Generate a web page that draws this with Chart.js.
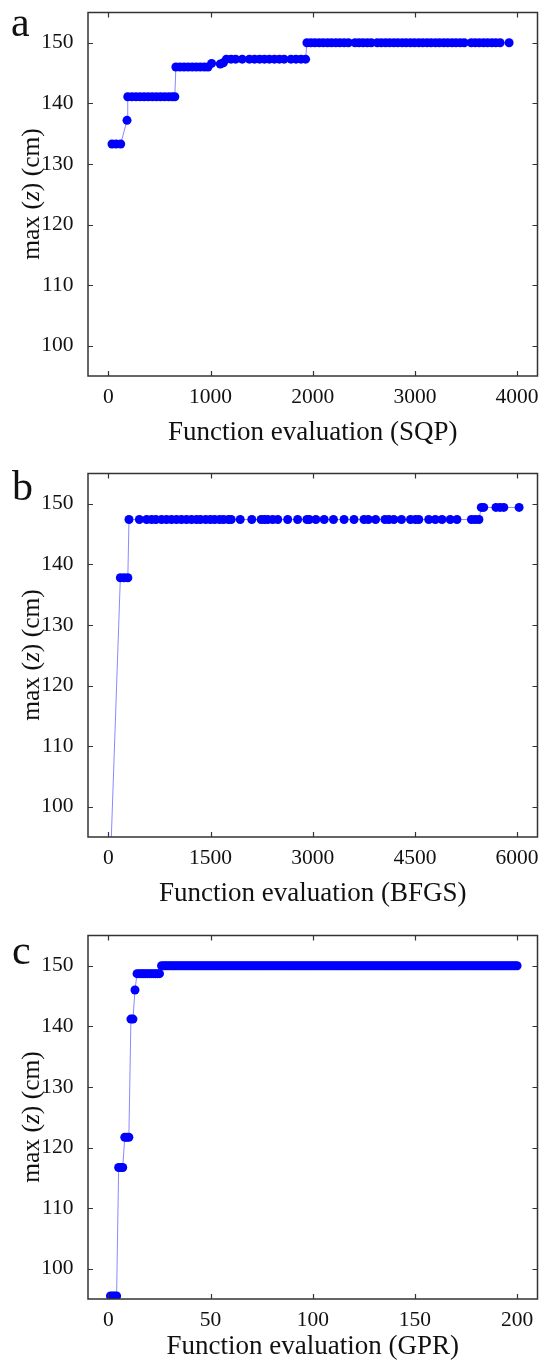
<!DOCTYPE html>
<html><head><meta charset="utf-8">
<script src="https://cdn.jsdelivr.net/npm/chart.js@4.4.1/dist/chart.umd.min.js"></script>
<style>
html,body{margin:0;padding:0;background:#fff;width:542px;height:1368px;overflow:hidden;position:relative;}
.panel{position:absolute;left:0;width:542px;}
.letter{position:absolute;font-family:'Liberation Serif','Times New Roman',serif;font-size:42px;line-height:1;color:#111;}
.ytitle{position:absolute;left:30.5px;font-family:'Liberation Serif','Times New Roman',serif;font-size:25.5px;line-height:1;white-space:nowrap;transform:translate(-50%,-50%) rotate(-90deg);color:#111;}
</style></head>
<body>
<div class="panel" style="top:0;height:461px"><canvas id="ca"></canvas></div>
<div class="panel" style="top:461px;height:461px"><canvas id="cb"></canvas></div>
<div class="panel" style="top:923px;height:445px"><canvas id="cc"></canvas></div>
<div class="letter" style="left:11px;top:1px">a</div>
<div class="letter" style="left:12px;top:465px">b</div>
<div class="letter" style="left:12px;top:929px">c</div>
<div class="ytitle" style="top:194px">max (<i>z</i>) (cm)</div>
<div class="ytitle" style="top:655px">max (<i>z</i>) (cm)</div>
<div class="ytitle" style="top:1117px">max (<i>z</i>) (cm)</div>
<script>
// ---------- data ----------
const yTicks = [100, 110, 120, 130, 140, 150];
const sqpTicks = [0, 1000, 2000, 3000, 4000];
const bfgsTicks = [0, 1500, 3000, 4500, 6000];
const gprTicks = [0, 50, 100, 150, 200];

const sqpLevels = [133.3, 137.2, 141.1, 146.0, 146.6, 146.5, 146.7, 147.3, 150.0];
const sqpEvalByLevel = [
  [35, 75, 120],
  [182],
  [189, 230, 270, 310, 350, 390, 430, 470, 510, 550, 590, 625, 650],
  [660, 700, 740, 780, 820, 860, 900, 940, 975],
  [1010],
  [1095],
  [1125],
  [1155, 1200, 1245, 1310, 1380, 1430, 1480, 1527, 1575, 1625, 1673, 1720, 1787, 1836, 1885, 1930],
  [1943, 1982, 2021, 2063, 2103, 2145, 2184, 2226, 2265, 2307, 2349, 2414, 2453, 2492, 2534, 2573,
   2632, 2671, 2713, 2752, 2794, 2833, 2876, 2915, 2957, 2996, 3038, 3077, 3119, 3158, 3201, 3240,
   3282, 3321, 3363, 3402, 3444, 3483, 3551, 3590, 3630, 3672, 3711, 3753, 3792, 3834, 3922]
];

const bfgsLevels = [86.0, 137.8, 147.4, 149.4];
const bfgsEvalByLevel = [
  [15],
  [175, 230, 285],
  [302, 454, 561, 634, 697, 780, 853, 926, 999, 1072, 1146, 1219, 1292, 1350, 1428, 1496, 1560,
   1633, 1691, 1764, 1803, 1935, 2105, 2242, 2290, 2339, 2412, 2486, 2632, 2778, 2914, 2949, 3046,
   3168, 3304, 3460, 3606, 3752, 3816, 3923, 4060, 4118, 4191, 4303, 4435, 4508, 4557, 4703, 4800,
   4898, 5019, 5117, 5330, 5385, 5440],
  [5475, 5510, 5690, 5750, 5805, 6030]
];

// GPR: one evaluation per integer step; [first, last] evaluation index at each level
const gprLevels = [95.5, 116.7, 121.7, 141.2, 146.0, 148.7, 150.0];
const gprEvalRanges = [[1, 4], [5, 7], [8, 10], [11, 12], [13, 13], [14, 25], [26, 200]];

// ---------- build points ----------
function fromLevels(levels, evalsByLevel) {
  const pts = [];
  levels.forEach((lv, i) => evalsByLevel[i].forEach(e => pts.push({x: e, y: lv})));
  return pts;
}
function fromRanges(levels, ranges) {
  const pts = [];
  levels.forEach((lv, i) => { for (let e = ranges[i][0]; e <= ranges[i][1]; e++) pts.push({x: e, y: lv}); });
  return pts;
}

const FONT = "'Liberation Serif', 'Times New Roman', serif";
const TXT = '#111';

const frameTicks = {
  id: 'frameTicks',
  afterDraw(chart) {
    const {ctx, chartArea: a, scales: {x, y}} = chart;
    ctx.save();
    ctx.strokeStyle = '#333';
    ctx.lineWidth = 1.2;
    ctx.beginPath();
    x.ticks.forEach(t => {
      const p = Math.round(x.getPixelForValue(t.value)) + 0.5;
      ctx.moveTo(p, a.bottom); ctx.lineTo(p, a.bottom - 5);
      ctx.moveTo(p, a.top); ctx.lineTo(p, a.top + 5);
    });
    y.ticks.forEach(t => {
      const p = Math.round(y.getPixelForValue(t.value)) + 0.5;
      ctx.moveTo(a.left, p); ctx.lineTo(a.left + 5, p);
      ctx.moveTo(a.right, p); ctx.lineTo(a.right - 5, p);
    });
    ctx.stroke();
    ctx.lineWidth = 1.5;
    ctx.strokeRect(a.left, a.top, a.right - a.left, a.bottom - a.top);
    ctx.restore();
  }
};

function makeChart(id, pts, xTicks, xMin, xMax, title, axisH, titlePad) {
  new Chart(document.getElementById(id), {
    type: 'scatter',
    data: {datasets: [{
      data: pts,
      showLine: true,
      borderColor: 'rgba(40,40,255,0.55)',
      borderWidth: 1,
      pointRadius: 4.5,
      pointHoverRadius: 4.5,
      pointBorderWidth: 0,
      pointBackgroundColor: '#0000ff',
      clip: 0
    }]},
    options: {
      responsive: true,
      maintainAspectRatio: false,
      animation: false,
      devicePixelRatio: 1,
      layout: {padding: {top: 12.5, right: 3.5, left: 0, bottom: 0}},
      plugins: {legend: {display: false}, tooltip: {enabled: false}},
      scales: {
        x: {
          type: 'linear', min: xMin, max: xMax,
          grid: {display: false}, border: {display: false},
          afterBuildTicks(s) { s.ticks = xTicks.map(v => ({value: v})); },
          ticks: {autoSkip: false, maxRotation: 0, padding: 0, color: TXT,
                  font: {family: FONT, size: 21.5}, callback: v => String(v)},
          title: {display: true, text: title, color: TXT, font: {family: FONT, size: 27},
                  padding: {top: 0, bottom: titlePad}},
          afterFit(s) { s.height = axisH; s.paddingLeft = 0; s.paddingRight = 0; }
        },
        y: {
          type: 'linear', min: 95, max: 155,
          grid: {display: false}, border: {display: false},
          afterBuildTicks(s) { s.ticks = yTicks.map(v => ({value: v})); },
          ticks: {padding: 6.5, color: TXT, font: {family: FONT, size: 21.5}, callback: v => String(v)},
          afterFit(s) { s.width = 88; s.paddingTop = 0; s.paddingBottom = 0; }
        }
      }
    },
    plugins: [frameTicks]
  });
}

makeChart('ca', fromLevels(sqpLevels, sqpEvalByLevel), sqpTicks, -200, 4200, 'Function evaluation (SQP)', 85, 11.8);
makeChart('cb', fromLevels(bfgsLevels, bfgsEvalByLevel), bfgsTicks, -300, 6300, 'Function evaluation (BFGS)', 85, 11.8);
makeChart('cc', fromRanges(gprLevels, gprEvalRanges), gprTicks, -10, 210, 'Function evaluation (GPR)', 69, 4.8);
</script>
</body></html>
